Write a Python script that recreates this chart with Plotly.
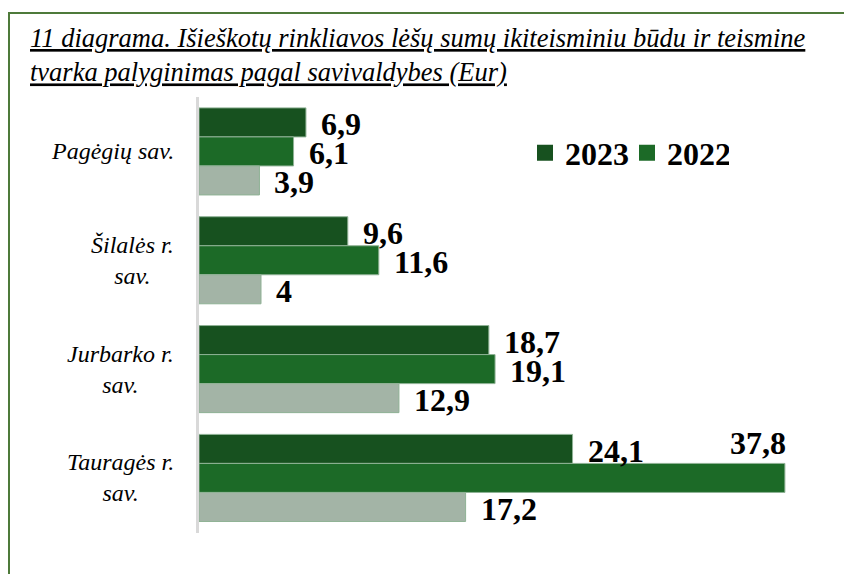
import plotly.graph_objects as go

categories = ["Pagėgių sav.", "Šilalės r. sav.", "Jurbarko r. sav.", "Tauragės r. sav."]
tick_labels = ["Pagėgių sav.", "Šilalės r.<br>sav.", "Jurbarko r.<br>sav.", "Tauragės r.<br>sav."]
series_names = ["2023", "2022", ""]
v2023 = [6.9, 9.6, 18.7, 24.1]
v2022 = [6.1, 11.6, 19.1, 37.8]
v_other = [3.9, 4, 12.9, 17.2]
series_values = [v2023, v2022, v_other]
colors = ["#17511f", "#1c6a27", "#a3b4a6"]
show_legend = [True, True, False]

OFF = 8  # page body margin of the browser
SCREEN_W, SCREEN_H = 852, 574
W, H = SCREEN_W - OFF, SCREEN_H - OFF
# plot area in screen pixels
PL, PR, PT, PB = 199, 830, 97, 533
L, R, T, B = PL - OFF, W - (PR - OFF), PT - OFF, H - (PB - OFF)
plot_w = W - L - R
plot_h = H - T - B
px_per_unit = 15.5
x_max = plot_w / px_per_unit
bargap = 0.2
band = plot_h / len(categories)
bar_h = band * (1 - bargap) / 3

FONT = "Liberation Serif, Times New Roman, serif"
LABEL_SIZE = 32


def fmt(v):
    return f"{v:g}".replace(".", ",")


def sx(px):  # screen x -> paper x
    return (px - OFF - L) / plot_w


def sy(py):  # screen y -> paper y
    return 1 - (py - OFF - T) / plot_h


fig = go.Figure()
for name, vals, col in zip(series_names, series_values, colors):
    fig.add_trace(go.Bar(
        y=categories, x=vals, orientation="h", name=name,
        marker=dict(color=col, line=dict(color="#8fb295", width=1)),
        showlegend=False, hoverinfo="skip",
    ))
# legend entries (square swatches)
for name, col, sl in zip(series_names, colors, show_legend):
    if sl:
        fig.add_trace(go.Scatter(
            x=[None], y=[None], mode="markers", name=name,
            marker=dict(symbol="square", size=16, color=col),
            showlegend=True, hoverinfo="skip",
        ))

annotations = []
for i, vals in enumerate(series_values):
    for cat, v in zip(categories, vals):
        txt = fmt(v)
        est_w = len(txt) * 0.5 * LABEL_SIZE
        end_px = PL + v * px_per_unit + 15 + est_w
        yshift = -(i - 1) * bar_h
        if end_px > SCREEN_W:
            annotations.append(dict(x=v, y=cat, xref="x", yref="y", text=f"<b>{txt}</b>",
                                    showarrow=False, xanchor="right", yanchor="middle",
                                    yshift=yshift + bar_h + 6, xshift=3,
                                    font=dict(family=FONT, size=LABEL_SIZE, color="#000")))
        else:
            annotations.append(dict(x=v, y=cat, xref="x", yref="y", text=f"<b>{txt}</b>",
                                    showarrow=False, xanchor="left", yanchor="middle",
                                    yshift=yshift - 2, xshift=13,
                                    font=dict(family=FONT, size=LABEL_SIZE, color="#000")))

for cat, lab in zip(categories, tick_labels):
    annotations.append(dict(x=sx(176), y=cat, xref="paper", yref="y", text=lab,
                            showarrow=False, xanchor="right", yanchor="middle", align="center",
                            font=dict(family=FONT, size=24, color="#000", style="italic")))

fig.update_layout(
    width=W, height=H,
    margin=dict(l=L, r=R, t=T, b=B),
    paper_bgcolor="white", plot_bgcolor="white",
    barmode="group", bargap=bargap, bargroupgap=0,
    title=dict(
        text="<u>11 diagrama. Išieškotų rinkliavos lėšų sumų ikiteisminiu būdu ir teismine</u><br><u>tvarka palyginimas pagal savivaldybes (Eur)</u>",
        x=(30 - OFF) / W, xanchor="left", xref="container",
        y=1 - (47 - OFF) / H, yanchor="top", yref="container",
        font=dict(family=FONT, size=26.5, color="#000", style="italic"),
    ),
    xaxis=dict(range=[0, x_max], showgrid=False, zeroline=False, showticklabels=False,
               showline=False, ticks=""),
    yaxis=dict(autorange="reversed", showticklabels=False, showgrid=False, ticks="",
               showline=True, linecolor="#d9d9d9", linewidth=3),
    legend=dict(orientation="h", x=sx(525), xanchor="left",
                y=sy(153), yanchor="middle",
                font=dict(family=FONT, size=LABEL_SIZE, color="#000", weight="bold"),
                bgcolor="rgba(0,0,0,0)", itemclick=False, itemdoubleclick=False,
                traceorder="normal", entrywidth=57, entrywidthmode="pixels"),
    annotations=annotations,
    shapes=[dict(type="rect", xref="paper", yref="paper",
                 x0=sx(9), x1=sx(SCREEN_W + 20),
                 y0=sy(SCREEN_H + 20), y1=sy(13),
                 line=dict(color="#4e7a3a", width=2), fillcolor="rgba(0,0,0,0)", layer="below")],
)

fig.write_html("out.html")
